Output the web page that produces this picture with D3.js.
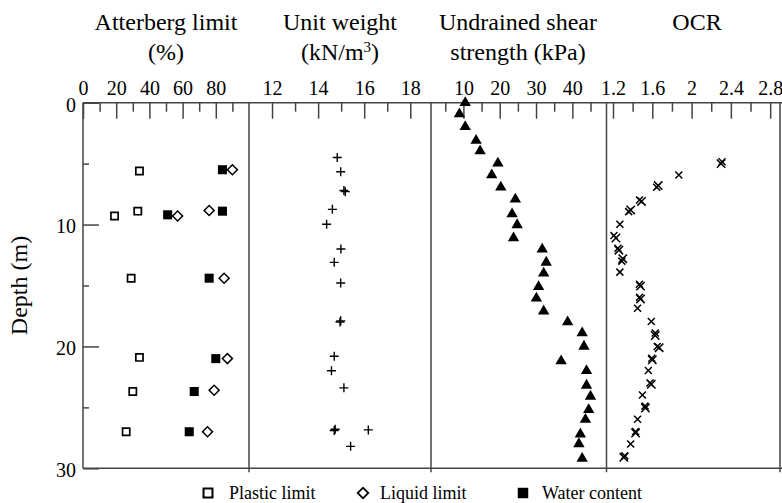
<!DOCTYPE html>
<html>
<head>
<meta charset="utf-8">
<script src="https://cdn.jsdelivr.net/npm/d3@7"></script>
<style>
  body { margin: 0; background: #fff; }
  svg text { font-family: "Liberation Serif", "Times New Roman", "DejaVu Serif", serif !important; fill: #000; }
</style>
</head>
<body>
<div id="chart"></div>
<script>
// Atterberg limits (%), depth (m)
let plasticDepth = [5.6, 9.3, 8.9, 14.4, 20.9, 23.7, 27.0];
let plastic = [34, 19, 33, 29, 34, 30, 26];
let liquidDepth = [5.5, 9.3, 8.85, 14.4, 21.0, 23.6, 27.0];
let liquid = [90, 57, 76, 85, 87, 79, 75];
let waterDepth = [5.5, 9.2, 8.9, 14.4, 21.0, 23.7, 27.0];
let water = [84, 51, 84, 76, 80, 67, 64];

// unit weight (kN/m3)
let uwDepth = [4.5, 5.66, 7.2, 7.3, 8.75, 9.98, 12.0, 13.1, 14.8, 17.9, 18.0, 20.8, 22.0, 23.4, 26.8, 26.9, 26.85, 28.2];
let uw = [14.83, 14.98, 15.12, 15.18, 14.62, 14.37, 14.99, 14.7, 14.98, 14.98, 14.95, 14.7, 14.58, 15.12, 14.74, 14.70, 16.18, 15.41];

// undrained shear strength (kPa)
let suDepth = [0.0, 0.93, 1.97, 3.1, 3.96, 4.97, 5.93, 6.94, 7.93, 9.13, 10.03, 11.1, 12.03, 13.1, 14.0, 15.1,
  16.05, 17.1, 18.0, 18.9, 20.0, 21.2, 22.0, 23.2, 24.1, 25.2, 26.0, 27.2, 28.0, 29.2];
let su = [10.5, 8.9, 10.5, 13.5, 14.6, 19.5, 17.8, 20.3, 24.3, 23.4, 24.8, 23.8, 31.7, 32.8, 32.1, 30.7,
  30.1, 32.1, 38.7, 42.7, 43.2, 36.9, 43.9, 43.9, 45.0, 44.5, 43.6, 42.2, 41.8, 42.7];

// OCR
let ocrDepth = [4.84, 5.93, 6.94, 7.98, 8.94, 9.98, 10.9, 11.95, 13.0, 13.9, 14.9, 15.97, 16.87, 17.96, 18.9,
  20.0, 20.97, 21.98, 23.0, 23.98, 24.9, 25.97, 26.98, 28.0, 28.98];
let ocr = [2.31, 1.87, 1.645, 1.47, 1.36, 1.27, 1.21, 1.25, 1.29, 1.27, 1.47, 1.47, 1.45, 1.59, 1.63,
  1.65, 1.595, 1.56, 1.577, 1.50, 1.526, 1.45, 1.43, 1.38, 1.32];
let ocrDepth2 = [5.0, 6.8, 8.1, 8.8, 11.1, 12.1, 12.8, 15.05, 16.1, 19.1, 20.1, 21.1, 23.1, 25.05, 27.1, 29.1];
let ocr2 = [2.30, 1.66, 1.49, 1.38, 1.23, 1.26, 1.30, 1.48, 1.48, 1.63, 1.67, 1.60, 1.59, 1.53, 1.43, 1.31];

// axis ticks
let depthMajor = [0, 10, 20, 30];
let depthMinor = [5, 15, 25];
let attMajor = [0, 20, 40, 60, 80];
let attMinor = [10, 30, 50, 70, 90];
let uwMajor = [12, 14, 16, 18];
let uwMinor = [13, 15, 17];
let suMajor = [10, 20, 30, 40];
let suMinor = [5, 15, 25, 35, 45];
let ocrMajor = [1.2, 1.6, 2, 2.4, 2.8];
let ocrMinor = [1.4, 1.8, 2.2, 2.6];

let width = 782;
let height = 503;
let yTop = 102.7;
let yBottom = 468.3;
let lineColor = "#444";
let serif = '"Liberation Serif", "Times New Roman", "DejaVu Serif", serif';

let svg = d3.select("#chart").append("svg")
  .attr("width", width).attr("height", height)
  .style("font-family", serif);

let y = d3.scaleLinear().domain([0, 30]).range([yTop, yBottom]);

let xAtt = d3.scaleLinear().domain([0, 100]).range([83, 249]);
let xUw = d3.scaleLinear().domain([11, 18.9]).range([249, 431]);
let xSu = d3.scaleLinear().domain([1.08, 49.4]).range([431, 606.5]);
let xOcr = d3.scaleLinear().domain([1.134, 2.9]).range([606.5, 780]);

/* frame */
let frame = svg.append("g").attr("stroke", lineColor).attr("stroke-width", 1.5);
frame.append("line").attr("x1", 83).attr("x2", 782).attr("y1", yTop).attr("y2", yTop);
frame.append("line").attr("x1", 83).attr("x2", 782).attr("y1", yBottom).attr("y2", yBottom);
[83, 249, 431, 606.5, 780].forEach(function(x, i) {
  frame.append("line").attr("x1", x).attr("x2", x).attr("y1", yTop).attr("y2", i == 0 ? yBottom : yBottom + 4);
});

/* top axes: major ticks with labels, minor ticks without */
function topAxis(scale, major, minor, fmt) {
  let gMaj = svg.append("g").attr("transform", `translate(0,${yTop})`)
    .call(d3.axisTop(scale).tickValues(major).tickSizeInner(-16).tickSizeOuter(0).tickPadding(8).tickFormat(fmt));
  let gMin = svg.append("g").attr("transform", `translate(0,${yTop})`)
    .call(d3.axisTop(scale).tickValues(minor).tickSizeInner(-9).tickSizeOuter(0).tickFormat(""));
  [gMaj, gMin].forEach(function(g) {
    g.attr("font-family", null).attr("font-size", null);
    g.select(".domain").remove();
    g.selectAll(".tick line").attr("stroke", lineColor).attr("stroke-width", 1.5);
    g.selectAll("text").style("font-size", "20px").style("font-family", serif).attr("fill", "#000");
  });
}
topAxis(xAtt, attMajor, attMinor, d3.format("d"));
topAxis(xUw, uwMajor, uwMinor, d3.format("d"));
topAxis(xSu, suMajor, suMinor, d3.format("d"));
topAxis(xOcr, ocrMajor, ocrMinor, d => String(+d.toFixed(1)));

/* depth axis */
let gy = svg.append("g").attr("transform", "translate(83,0)")
  .call(d3.axisLeft(y).tickValues(depthMajor).tickSizeInner(-16).tickSizeOuter(0).tickPadding(7).tickFormat(d3.format("d")));
let gy2 = svg.append("g").attr("transform", "translate(83,0)")
  .call(d3.axisLeft(y).tickValues(depthMinor).tickSizeInner(-6).tickSizeOuter(0).tickFormat(""));
[gy, gy2].forEach(function(g) {
  g.attr("font-family", null).attr("font-size", null);
  g.select(".domain").remove();
  g.selectAll(".tick line").attr("stroke", lineColor).attr("stroke-width", 1.5);
  g.selectAll("text").style("font-size", "20px").style("font-family", serif).attr("fill", "#000").attr("dy", "0.42em");
});

svg.append("text")
  .attr("transform", `translate(27,${(yTop + yBottom) / 2}) rotate(-90)`)
  .attr("text-anchor", "middle")
  .style("font-size", "24px")
  .text("Depth (m)");

/* panel titles */
let titles = svg.append("g").style("font-size", "24px").attr("text-anchor", "middle");
titles.append("text").attr("x", 166).attr("y", 30).text("Atterberg limit");
titles.append("text").attr("x", 166).attr("y", 60).text("(%)");
titles.append("text").attr("x", 340).attr("y", 30).text("Unit weight");
let t2 = titles.append("text").attr("x", 340).attr("y", 60);
t2.append("tspan").text("(kN/m");
t2.append("tspan").attr("dy", -8).style("font-size", "15px").text("3");
t2.append("tspan").attr("dy", 8).text(")");
titles.append("text").attr("x", 518).attr("y", 30).text("Undrained shear");
titles.append("text").attr("x", 518).attr("y", 60).text("strength (kPa)");
titles.append("text").attr("x", 697).attr("y", 30).text("OCR");

/* markers */
let sq = d3.symbol().type(d3.symbolSquare);
let tri = d3.symbol().type(d3.symbolTriangle).size(56);

let att = svg.append("g");
att.selectAll(".pl").data(plastic).enter().append("path")
  .attr("transform", (d, i) => `translate(${xAtt(d)},${y(plasticDepth[i])})`)
  .attr("d", sq.size(52)()).attr("fill", "#fff").attr("stroke", "#000").attr("stroke-width", 1.7);
att.selectAll(".ll").data(liquid).enter().append("path")
  .attr("transform", (d, i) => `translate(${xAtt(d)},${y(liquidDepth[i])}) rotate(45)`)
  .attr("d", sq.size(50)()).attr("fill", "#fff").attr("stroke", "#000").attr("stroke-width", 1.5);
att.selectAll(".wc").data(water).enter().append("path")
  .attr("transform", (d, i) => `translate(${xAtt(d)},${y(waterDepth[i])})`)
  .attr("d", sq.size(82)()).attr("fill", "#000");

let plus = (cx, cy, s) => `M${cx - s},${cy}h${2 * s}M${cx},${cy - s}v${2 * s}`;
let times = (cx, cy, s) => `M${cx - s},${cy - s}L${cx + s},${cy + s}M${cx - s},${cy + s}L${cx + s},${cy - s}`;

svg.append("g").selectAll("path").data(uw).enter().append("path")
  .attr("d", (d, i) => plus(xUw(d), y(uwDepth[i]), 4.5))
  .attr("stroke", "#000").attr("stroke-width", 1.4).attr("fill", "none");

svg.append("g").selectAll("path").data(su).enter().append("path")
  .attr("transform", (d, i) => `translate(${xSu(d)},${y(suDepth[i])})`)
  .attr("d", tri()).attr("fill", "#000");

let og = svg.append("g").attr("stroke", "#000").attr("stroke-width", 1.5).attr("fill", "none");
og.selectAll(".o1").data(ocr).enter().append("path")
  .attr("d", (d, i) => times(xOcr(d), y(ocrDepth[i]), 3.5));
og.selectAll(".o2").data(ocr2).enter().append("path")
  .attr("d", (d, i) => times(xOcr(d), y(ocrDepth2[i]), 4.2));

/* legend */
let legend = svg.append("g").attr("transform", "translate(0,493)");
legend.append("path").attr("transform", "translate(208,0)")
  .attr("d", sq.size(80)()).attr("fill", "#fff").attr("stroke", "#000").attr("stroke-width", 2);
legend.append("path").attr("transform", "translate(363,0) rotate(45)")
  .attr("d", sq.size(56)()).attr("fill", "#fff").attr("stroke", "#000").attr("stroke-width", 1.8);
legend.append("path").attr("transform", "translate(523,0)")
  .attr("d", sq.size(110)()).attr("fill", "#000");
let lt = legend.append("g").style("font-size", "18px");
lt.append("text").attr("x", 229).attr("y", 6).text("Plastic limit");
lt.append("text").attr("x", 380).attr("y", 6).text("Liquid limit");
lt.append("text").attr("x", 542).attr("y", 6).text("Water content");
</script>
</body>
</html>
